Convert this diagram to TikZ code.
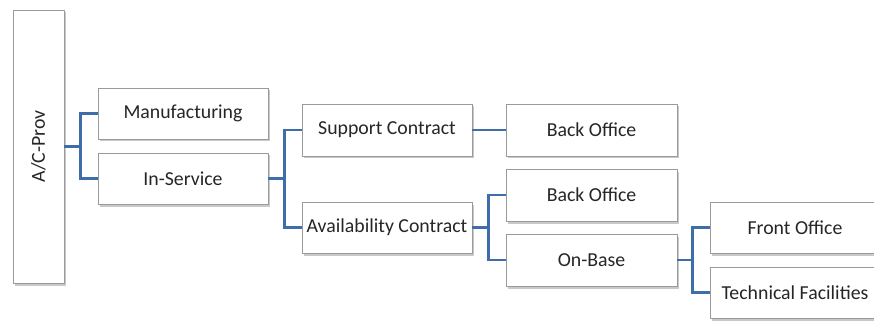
\documentclass[tikz,border=0pt]{standalone}
\usepackage{fontspec}
\setmainfont{Carlito}
\usetikzlibrary{shadows}
\definecolor{linkblue}{HTML}{3F6DAA}
\definecolor{boxline}{HTML}{9A9A9A}
\definecolor{txt}{HTML}{262626}
\tikzset{
  box/.style={draw=boxline, line width=0.8pt, fill=white, text=txt,
    font=\fontsize{19.8}{21}\selectfont, inner sep=0pt,
    drop shadow={shadow xshift=1.5pt, shadow yshift=-2.5pt, opacity=0.35, fill=black!60}},
  conn/.style={draw=linkblue, line width=2.8pt}
}
\begin{document}
\begin{tikzpicture}[x=1pt, y=-1pt]
\useasboundingbox (0,0) rectangle (874,323);
\fill[white] (0,0) rectangle (874,323);

% root (vertical)
\node[box, minimum width=51pt, minimum height=273pt] (prov) at (38.5,146.5) {};
\node[text=txt, font=\fontsize{19.8}{21}\selectfont, rotate=90] (provlabel) at (prov.center) {A/C-Prov};

% first level
\node[box, minimum width=170pt, minimum height=51pt] (manu) at (183,113.5) {Manufacturing};
\node[box, minimum width=170pt, minimum height=51pt] (insv) at (183,178.5) {In-Service};

% contracts
\node[box, minimum width=170pt, minimum height=52pt] (supp) at (387,130) {Support Contract};
\node[box, minimum width=170pt, minimum height=51pt] (avail) at (387,227.5) {Availability Contract};

% third level
\node[box, minimum width=171pt, minimum height=52pt] (bo1) at (591.5,130) {Back Office};
\node[box, minimum width=171pt, minimum height=52pt] (bo2) at (591.5,195) {Back Office};
\node[box, minimum width=171pt, minimum height=52pt] (onb) at (591.5,260) {On-Base};

% on-base children
\node[box, minimum width=170pt, minimum height=51pt] (fo) at (795,227.5) {Front Office};
\node[box, minimum width=170pt, minimum height=51pt] (tf) at (795,292.5) {Technical Facilities};

% connectors
\draw[conn] (prov.east) -- ++(16,0) |- (manu.west);
\draw[conn] (prov.east) -- ++(16,0) |- (insv.west);
\draw[conn] (insv.east) -- ++(16,0) |- (supp.west);
\draw[conn] (insv.east) -- ++(16,0) |- (avail.west);
\draw[conn] (supp.east) -- (bo1.west);
\draw[conn] (avail.east) -- ++(16,0) |- (bo2.west);
\draw[conn] (avail.east) -- ++(16,0) |- (onb.west);
\draw[conn] (onb.east) -- ++(15,0) |- (fo.west);
\draw[conn] (onb.east) -- ++(15,0) |- (tf.west);
\end{tikzpicture}
\end{document}
